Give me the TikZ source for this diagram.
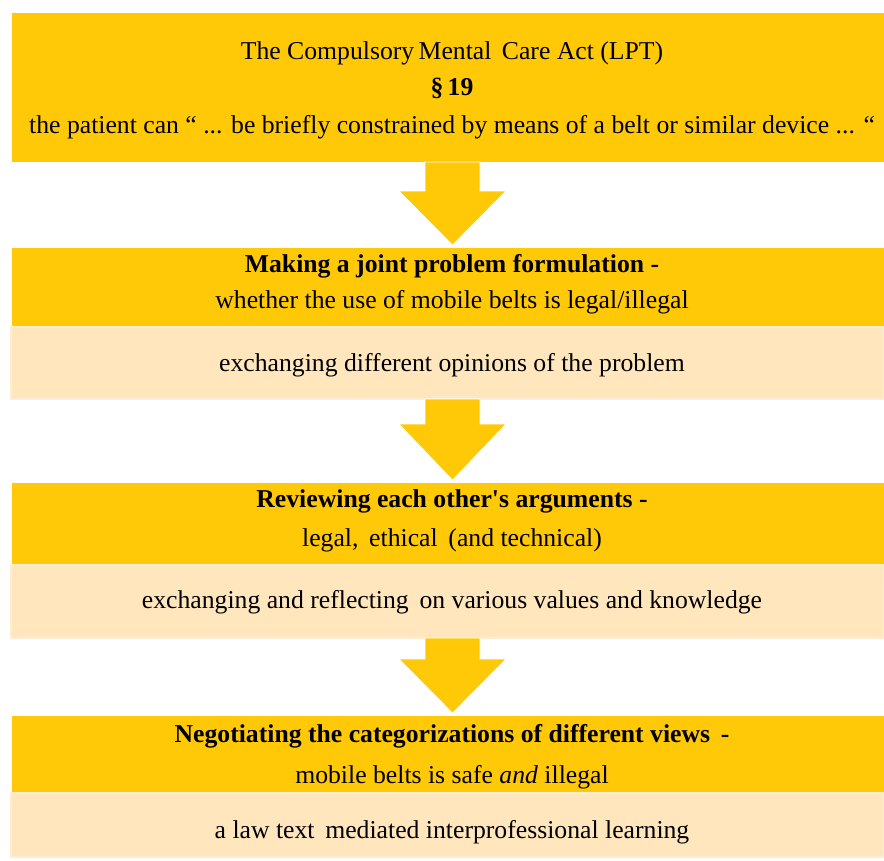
\documentclass[tikz,border=0pt]{standalone}
\usepackage{fontspec}
\setmainfont{Liberation Serif}[Ligatures=TeXOff]
\usetikzlibrary{calc}

\definecolor{gold}{HTML}{FFC908}
\definecolor{cream}{HTML}{FFE6BD}
\definecolor{creamedge}{HTML}{FFEDD3}

% block arrow from the bottom of #1 to the top of #2, shaft length #3
\newcommand\flowarrow[3]{%
  \filldraw[flowarrowstyle]
    ($(#1.south -| ax)+(-27.5,0)$) -- ($(#1.south -| ax)+(-27.5,#3)$)
    -- ($(#1.south -| ax)+(-53.5,#3)$) -- ($(#2.north -| ax)+(0,-3)$)
    -- ($(#1.south -| ax)+(53.5,#3)$) -- ($(#1.south -| ax)+(27.5,#3)$)
    -- ($(#1.south -| ax)+(27.5,0)$) -- cycle;}

\begin{document}
\begin{tikzpicture}[x=1pt,y=-1pt,
  darkbox/.style={fill=gold, draw=none, inner sep=0, outer sep=0, minimum width=872pt},
  lightbox/.style={fill=cream, draw=creamedge, line width=2.5pt, inner sep=0, outer sep=0, minimum width=873pt},
  txt/.style={anchor=base, inner sep=0, font=\fontsize{25.7}{30}\selectfont},
  flowarrowstyle/.style={fill=gold, draw=white, line width=0.6pt, line join=miter}]
\useasboundingbox (0,0) rectangle (884,860);
\coordinate (ax) at (452.5,0);

% boxes
\node[darkbox, minimum height=149pt] (act) at (448,87.5) {};
\node[darkbox, minimum height=78pt] (b2) at (448,287) {};
\node[lightbox, minimum height=72pt] (l2) at (447.5,363) {};
\node[darkbox, minimum height=81pt] (b3) at (448,523.5) {};
\node[lightbox, minimum height=73pt] (l3) at (447.5,601.5) {};
\node[darkbox, minimum height=76pt] (b4) at (448,754) {};
\node[lightbox, minimum height=64pt] (l4) at (447.5,825) {};

% texts
\node[txt] (t1a) at (452,59) {The Compulsory\hspace{-2pt} Mental\hspace{4pt} Care Act (LPT)};
\node[txt] (t1b) at (452,95) {\textbf{§\,19}};
\node[txt] (t1c) at (452,133) {the patient can “ ... be briefly constrained by means of a belt or similar device ... “};
\node[txt] (t2a) at (452,272) {\textbf{Making a joint problem formulation -}};
\node[txt] (t2b) at (452,308) {whether the use of mobile belts is legal/illegal};
\node[txt] (t2c) at (452,371) {exchanging different opinions of the problem};
\node[txt] (t3a) at (452,507) {\textbf{Reviewing each other's arguments -}};
\node[txt] (t3b) at (452,546) {legal,\, ethical\, (and technical)};
\node[txt] (t3c) at (452,608) {exchanging and reflecting\, on various values and knowledge};
\node[txt] (t4a) at (452,742) {\textbf{Negotiating the categorizations of different views\, -}};
\node[txt] (t4b) at (452,783) {mobile belts is safe \textit{and} illegal};
\node[txt] (t4c) at (452,838) {a law text\, mediated interprofessional learning};

% arrows
\flowarrow{act}{b2}{29}
\flowarrow{l2}{b3}{25}
\flowarrow{l3}{b4}{21}
\end{tikzpicture}
\end{document}
